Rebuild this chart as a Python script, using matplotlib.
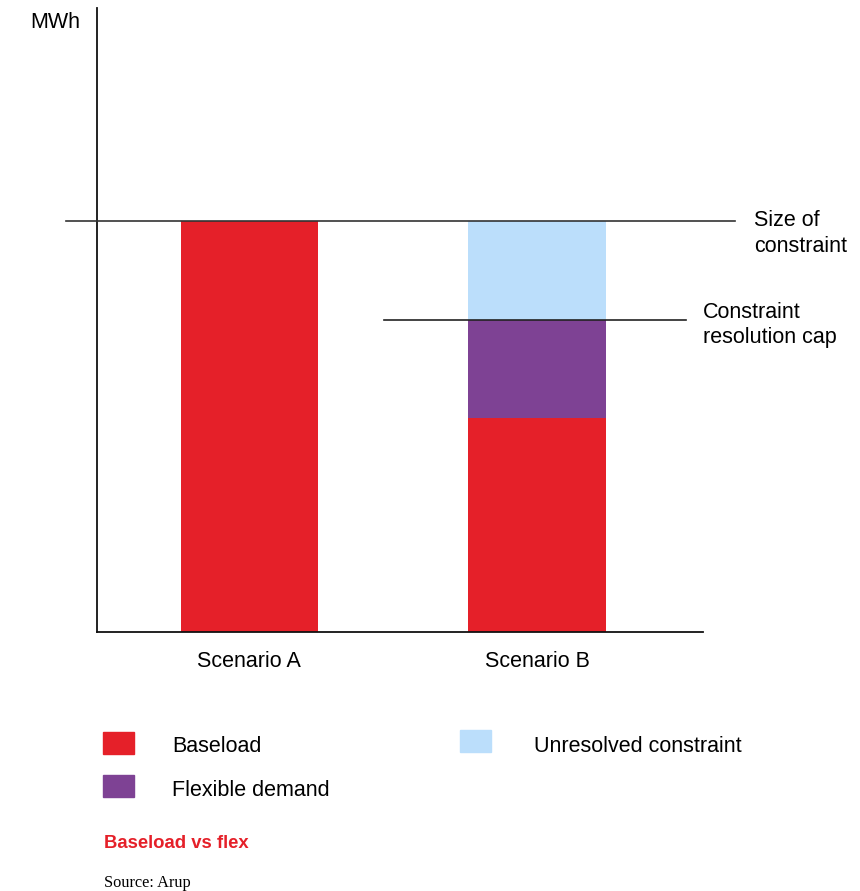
import matplotlib
matplotlib.use("Agg")
import matplotlib.pyplot as plt
from matplotlib.patches import Rectangle
import matplotlib.transforms as mtransforms

plt.rcParams['font.family'] = ['Liberation Sans', 'DejaVu Sans']

# Data (MWh, arbitrary units)
scenarios = ["Scenario A", "Scenario B"]
baseload = [100, 52]
flexible = [0, 24]
unresolved = [0, 24]
constraint_size = 100
resolution_cap = 76

RED = "#E52029"
PURPLE = "#7E4294"
BLUE = "#BBDEFB"
FS = 15.5

W, H = 860, 891
fig = plt.figure(figsize=(W / 100, H / 100), dpi=100)

def fx(px):
    return px / W

def fy(py):
    return 1 - py / H

ax = fig.add_axes([fx(97), fy(632), fx(703) - fx(97), fy(8) - fy(632)])

x = list(range(len(scenarios)))
width = 0.477
ax.bar(x, baseload, width=width, color=RED, zorder=2)
ax.bar(x, flexible, width=width, bottom=baseload, color=PURPLE, zorder=2)
bottom2 = [b + f for b, f in zip(baseload, flexible)]
ax.bar(x, unresolved, width=width, bottom=bottom2, color=BLUE, zorder=2)

ax.set_xlim(-0.530, 1.577)
ax.set_ylim(0, 151.8)

for s in ["top", "right"]:
    ax.spines[s].set_visible(False)
for s in ["left", "bottom"]:
    ax.spines[s].set_linewidth(1.3)
    ax.spines[s].set_color("#111111")
ax.set_yticks([])
ax.set_xticks(x)
ax.set_xticklabels(scenarios, fontsize=FS)
ax.tick_params(axis="x", length=0, pad=14)

# Reference lines (x in figure fraction, y in data)
trans = mtransforms.blended_transform_factory(fig.transFigure, ax.transData)
ax.plot([fx(66), fx(735)], [constraint_size, constraint_size], transform=trans,
        color="#333333", lw=1.2, clip_on=False, zorder=3)
ax.plot([fx(384), fx(686)], [resolution_cap, resolution_cap], transform=trans,
        color="#222222", lw=1.2, clip_on=False, zorder=3)

# Line annotations, one text per row
for tx, ty, label in [(754, 220, "Size of"), (754, 246, "constraint"),
                      (703, 312, "Constraint"), (703, 338, "resolution cap")]:
    fig.text(fx(tx), fy(ty), label, fontsize=FS, va="center", ha="left")

fig.text(fx(30), fy(22), "MWh", fontsize=FS, va="center", ha="left")

# Legend
legend_items = [
    (103, 743, RED, "Baseload", 172, 747),
    (103, 786, PURPLE, "Flexible demand", 172, 790),
    (460, 741, BLUE, "Unresolved constraint", 534, 747),
]
for px, py, col, label, tx, ty in legend_items:
    fig.patches.append(Rectangle((fx(px), fy(py + 11)), fx(31), 22 / H,
                                 transform=fig.transFigure, color=col))
    fig.text(fx(tx), fy(ty), label, fontsize=FS, va="center", ha="left")

fig.text(fx(104), fy(844), "Baseload vs flex", fontsize=13.3, fontweight="bold",
         color=RED, va="center", ha="left")
fig.text(fx(104), fy(883), "Source: Arup", fontsize=11.8,
         family=["Liberation Serif", "DejaVu Serif"], va="center", ha="left")

fig.savefig("out.png", dpi=100)
